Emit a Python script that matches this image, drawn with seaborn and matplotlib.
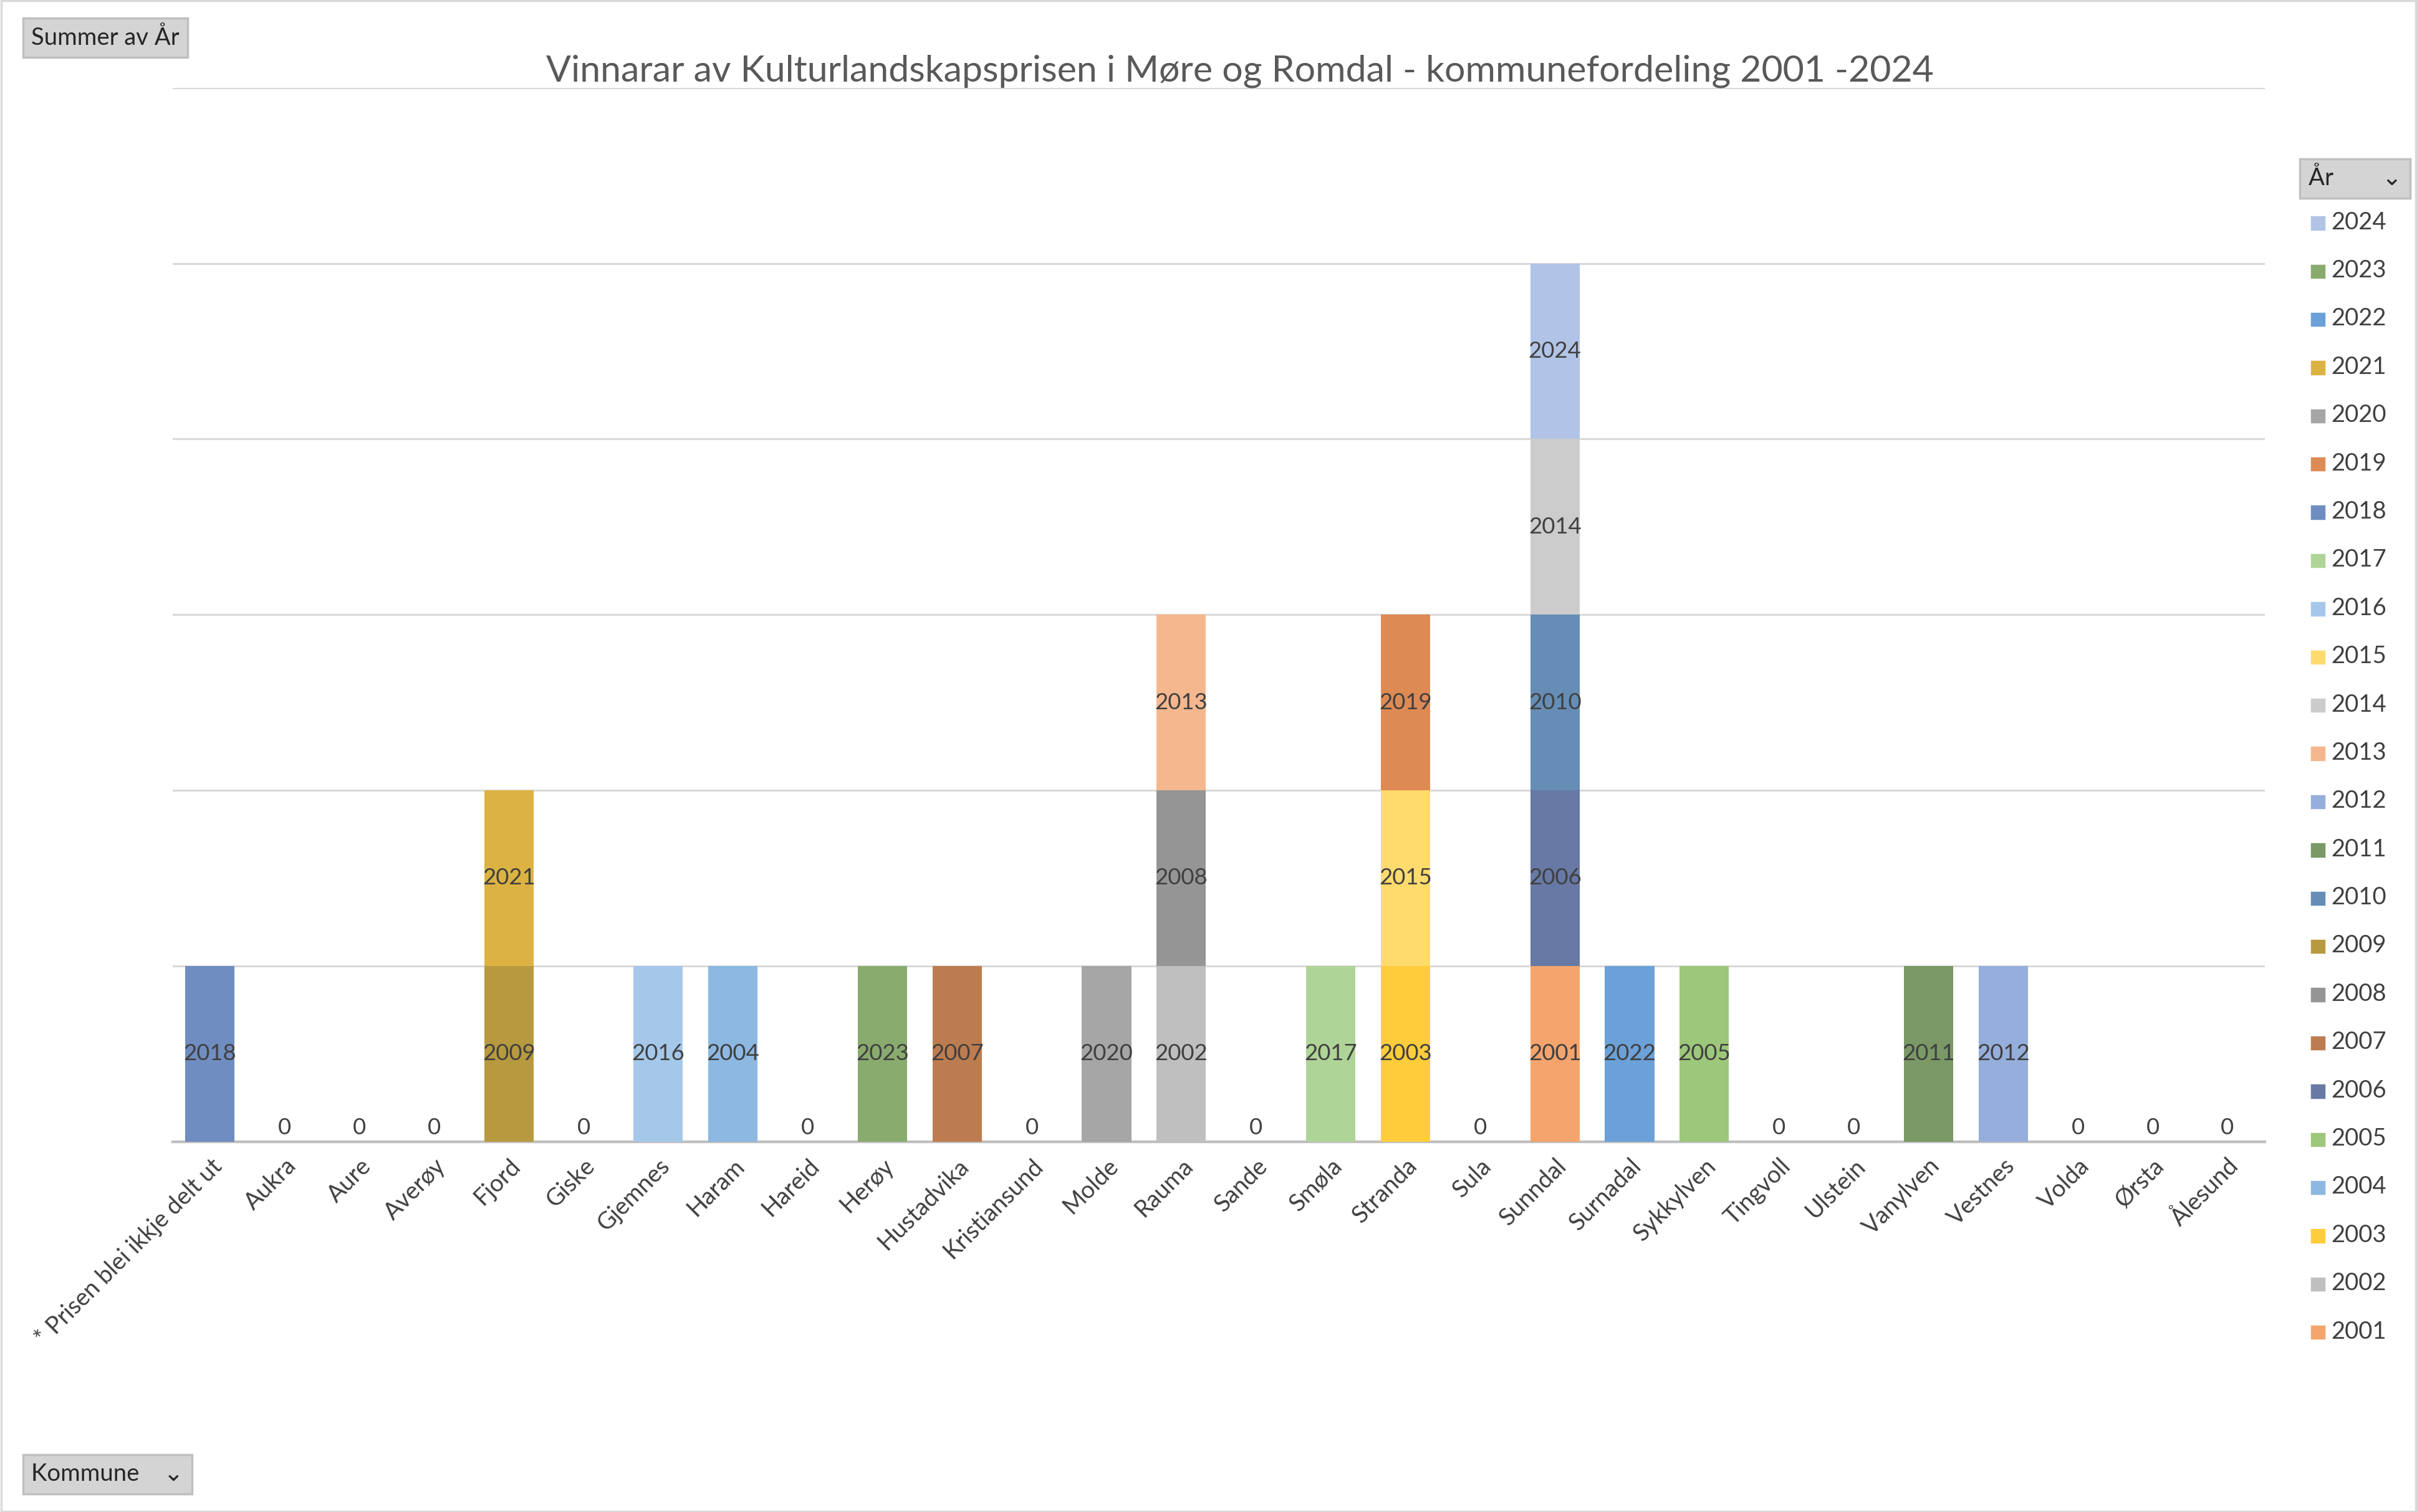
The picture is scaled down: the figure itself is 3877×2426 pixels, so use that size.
import matplotlib
matplotlib.use("Agg")
import matplotlib.pyplot as plt
import seaborn as sns
import pandas as pd
from matplotlib.patches import Rectangle

sns.set_theme(style="white")
plt.rcParams['font.family'] = ['Lato', 'DejaVu Sans']

kommuner = ["* Prisen blei ikkje delt ut", "Aukra", "Aure", "Averøy", "Fjord", "Giske", "Gjemnes",
            "Haram", "Hareid", "Herøy", "Hustadvika", "Kristiansund", "Molde", "Rauma", "Sande",
            "Smøla", "Stranda", "Sula", "Sunndal", "Surnadal", "Sykkylven", "Tingvoll", "Ulstein",
            "Vanylven", "Vestnes", "Volda", "Ørsta", "Ålesund"]
vinnarar = {
    "* Prisen blei ikkje delt ut": [2018],
    "Fjord": [2009, 2021],
    "Gjemnes": [2016],
    "Haram": [2004],
    "Herøy": [2023],
    "Hustadvika": [2007],
    "Molde": [2020],
    "Rauma": [2002, 2008, 2013],
    "Smøla": [2017],
    "Stranda": [2003, 2015, 2019],
    "Sunndal": [2001, 2006, 2010, 2014, 2024],
    "Surnadal": [2022],
    "Sykkylven": [2005],
    "Vanylven": [2011],
    "Vestnes": [2012],
}
years = list(range(2001, 2025))
colors = ["#F4A46C", "#BFBFBF", "#FFCD3C", "#8CB8E2", "#9DC77A", "#6879A6", "#BD7C4F", "#959595",
          "#B79A3F", "#658DB5", "#7A9966", "#95AEDC", "#F5B78E", "#CCCCCC", "#FFDB6E", "#A5C8EA",
          "#AFD497", "#6F8DC0", "#DE8A55", "#A6A6A6", "#DCB343", "#6BA1D8", "#8AAB6E", "#B1C4E7"]
cmap = dict(zip(years, colors))

rows = []
for k, ys in vinnarar.items():
    for lvl, y in enumerate(sorted(ys)):
        rows.append((kommuner.index(k), k, y, lvl))
df = pd.DataFrame(rows, columns=["idx", "kommune", "year", "level"])

fig = plt.figure(figsize=(15.508, 9.704), dpi=250)
ax = fig.add_axes([0.0714, 0.245, 0.8656, 0.697])
for _, r in df.iterrows():
    ax.bar(r.idx, 1, bottom=r.level, width=0.66, color=cmap[r.year], edgecolor="none", zorder=3)
    ax.text(r.idx, r.level + 0.5, str(r.year), ha="center", va="center", fontsize=10.5, color="#404040", zorder=4)
for i, k in enumerate(kommuner):
    if k not in vinnarar:
        ax.text(i + 0.0, 0.02, "0", ha="center", va="bottom", fontsize=10.5, color="#404040")

ax.set_xlim(-0.5, len(kommuner) - 0.5)
ax.set_ylim(0, 6)
ax.set_yticks(range(0, 7))
ax.set_yticklabels([])
ax.tick_params(axis="y", length=0)
ax.yaxis.grid(True, color="#D9D9D9", lw=0.9)
ax.set_xticks(range(len(kommuner)))
ax.set_xticklabels(kommuner, rotation=45, ha="right", rotation_mode="anchor", fontsize=11, color="#404040")
ax.tick_params(axis="x", length=0, pad=6)
for s in ["top", "right", "left"]:
    ax.spines[s].set_visible(False)
ax.spines["bottom"].set_color("#BFBFBF")

fig.text(0.513, 0.953, "Vinnarar av Kulturlandskapsprisen i Møre og Romdal - kommunefordeling 2001 -2024",
         ha="center", va="center", fontsize=17, color="#595959")

# legend
lx, ly0, dy = 0.959, 0.853, 0.0319
for j, y in enumerate(reversed(years)):
    yy = ly0 - j * dy
    fig.patches.append(Rectangle((lx - 0.0025, yy - 0.0045), 0.005, 0.008, color=cmap[y], transform=fig.transFigure))
    fig.text(lx + 0.0055, yy, str(y), va="center", fontsize=11, color="#404040")

box = dict(boxstyle="square,pad=0.35", fc="#D4D4D4", ec="#BFBFBF")
fig.text(0.013, 0.975, "Summer av År", fontsize=11, va="center", bbox=box)
fig.text(0.955, 0.882, "År        ⌄", fontsize=11, va="center", bbox=box)
fig.text(0.013, 0.025, "Kommune    ⌄", fontsize=11, va="center", bbox=box)

fig.patches.append(Rectangle((0.0005, 0.0005), 0.999, 0.999, fill=False, ec="#D9D9D9", lw=1, transform=fig.transFigure))
fig.savefig("out.png", dpi=250, facecolor="white")
